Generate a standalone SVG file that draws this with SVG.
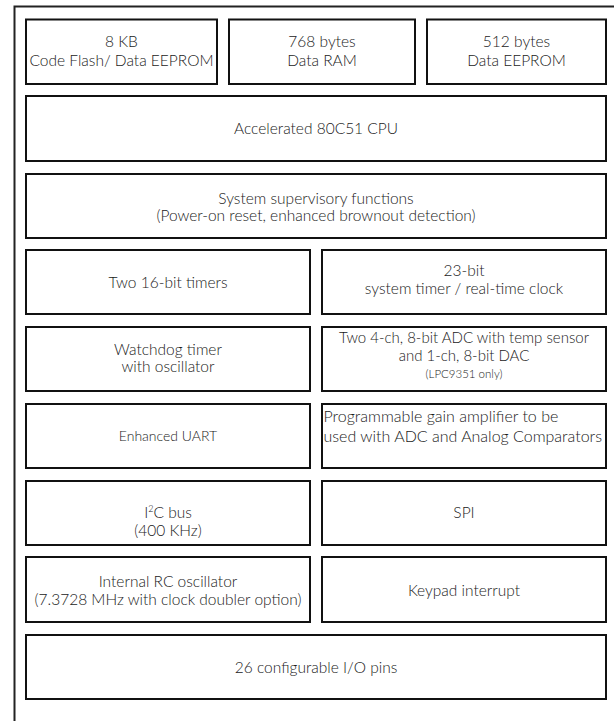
<svg xmlns="http://www.w3.org/2000/svg" width="614" height="721" viewBox="0 0 614 721">
<style>
.b{fill:#fff;stroke:#111;stroke-width:2}
.f{fill:none;stroke:#222;stroke-width:2}
text{font-family:Lato,"Open Sans","Liberation Sans",sans-serif;font-weight:300;font-size:15.5px;fill:#1a1a1a;text-anchor:middle}
.s{font-size:14px}
.xs{font-size:11.5px}
.a{font-size:15px}
.m{font-size:16px}
.l{text-anchor:start}
</style>
<rect width="614" height="721" fill="#fff"/>
<g id="frame"><path class="f" d="M14.5 721V6.5H614"/></g>
<g id="connectors"></g>
<g id="flash"><rect class="b" x="26" y="19.5" width="191" height="64.5"/><text x="121.5" y="47">8 KB</text><text x="121.5" y="66">Code Flash/ Data EEPROM</text></g>
<g id="ram"><rect class="b" x="229" y="19.5" width="186" height="64.5"/><text x="322" y="47">768 bytes</text><text x="322" y="66">Data RAM</text></g>
<g id="eeprom"><rect class="b" x="427" y="19.5" width="179" height="64.5"/><text x="516.5" y="47">512 bytes</text><text x="516.5" y="66">Data EEPROM</text></g>
<g id="cpu"><rect class="b" x="26" y="96" width="580" height="65"/><text x="316" y="133.5">Accelerated 80C51 CPU</text></g>
<g id="supervisory"><rect class="b" x="26" y="174" width="580" height="64"/><text x="316" y="204">System supervisory functions</text><text x="316" y="221">(Power-on reset, enhanced brownout detection)</text></g>
<g id="timers"><rect class="b" x="26" y="250" width="284" height="64"/><text x="168" y="288">Two 16-bit timers</text></g>
<g id="systimer"><rect class="b" x="322" y="250" width="284" height="64"/><text x="464" y="276">23-bit</text><text x="464" y="294">system timer / real-time clock</text></g>
<g id="watchdog"><rect class="b" x="26" y="327" width="284" height="64"/><text x="168" y="355">Watchdog timer</text><text x="168" y="372">with oscillator</text></g>
<g id="adc"><rect class="b" x="322" y="327" width="284" height="64"/><text class="a" x="464" y="343">Two 4-ch, 8-bit ADC with temp sensor</text><text class="a" x="464" y="361">and 1-ch, 8-bit DAC</text><text class="xs" x="464" y="377.5">(LPC9351 only)</text></g>
<g id="uart"><rect class="b" x="26" y="404" width="284" height="64"/><text class="s" x="168" y="441">Enhanced UART</text></g>
<g id="pga"><rect class="b" x="322" y="404" width="284" height="64"/><text class="l m" x="323.5" y="422">Programmable gain amplifier to be</text><text class="l m" x="323.5" y="442">used with ADC and Analog Comparators</text></g>
<g id="i2c"><rect class="b" x="26" y="481" width="284" height="64"/><text x="168" y="518">I<tspan font-size="9" dy="-6">2</tspan><tspan dy="6">C bus</tspan></text><text x="168" y="536">(400 KHz)</text></g>
<g id="spi"><rect class="b" x="322" y="481" width="284" height="64"/><text x="464" y="518">SPI</text></g>
<g id="rcosc"><rect class="b" x="26" y="557" width="284" height="65"/><text x="168" y="587">Internal RC oscillator</text><text x="168" y="605">(7.3728 MHz with clock doubler option)</text></g>
<g id="keypad"><rect class="b" x="322" y="557" width="284" height="65"/><text x="464" y="596">Keypad interrupt</text></g>
<g id="io"><rect class="b" x="26" y="635" width="580" height="64"/><text x="316" y="673">26 configurable I/O pins</text></g>
</svg>
